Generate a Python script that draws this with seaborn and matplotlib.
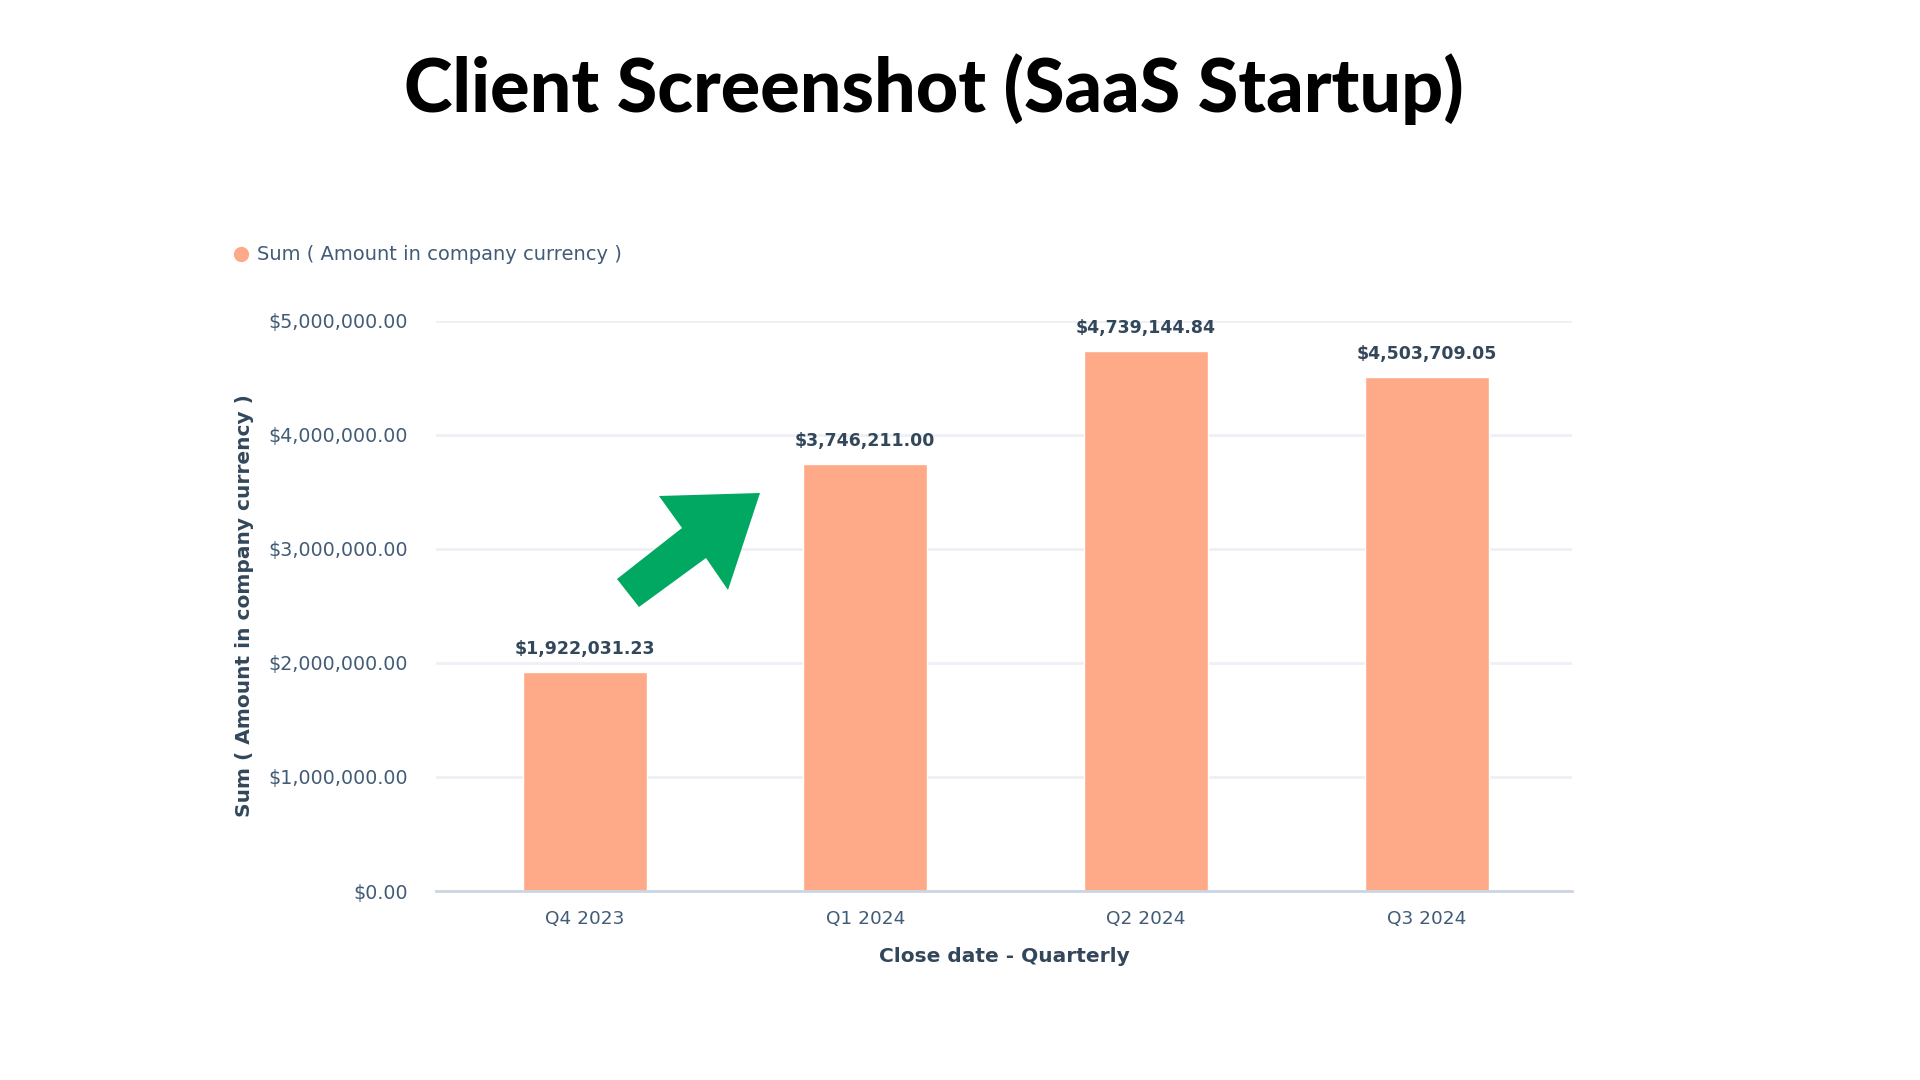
import matplotlib
matplotlib.use("Agg")
import matplotlib.pyplot as plt
from matplotlib.lines import Line2D
from matplotlib.patches import Polygon
from matplotlib.ticker import FuncFormatter
import seaborn as sns
import pandas as pd

quarters = ["Q4 2023", "Q1 2024", "Q2 2024", "Q3 2024"]
amounts = [1922031.23, 3746211.00, 4739144.84, 4503709.05]
y_ticks = [0, 1000000, 2000000, 3000000, 4000000, 5000000]

BAR = "#FEAA88"
NAVY = "#33475b"
GRAY = "#425b76"
GREEN = "#00A862"


def main():
    sns.set_theme(style="white")
    plt.rcParams["font.family"] = ["DejaVu Sans"]

    data = pd.DataFrame({"quarter": quarters, "amount": amounts})

    fig = plt.figure(figsize=(19.2, 10.8), dpi=100)
    ax = fig.add_axes([0.227, 0.175, 0.592, 0.528])

    sns.barplot(data=data, x="quarter", y="amount", color=BAR,
                width=0.442, saturation=1, ax=ax, zorder=3)

    ax.set_xlim(-0.53, 3.52)
    ax.set_ylim(0, 5000000)
    ax.set_yticks(y_ticks)
    ax.yaxis.set_major_formatter(FuncFormatter(lambda v, _: f"${v:,.2f}"))
    ax.grid(axis="y", color="#eef0f5", linewidth=2, zorder=0)
    for side in ["top", "right", "left"]:
        ax.spines[side].set_visible(False)
    ax.spines["bottom"].set_color("#cbd6e2")
    ax.spines["bottom"].set_linewidth(2)
    ax.spines["bottom"].set_zorder(4)

    ax.tick_params(axis="y", length=0, pad=20, labelsize=13.7, labelcolor=GRAY)
    ax.tick_params(axis="x", length=0, pad=14, labelsize=13.3, labelcolor=GRAY)

    ax.set_xlabel("Close date - Quarterly", fontsize=14.5, fontweight="bold",
                  color=NAVY, labelpad=13)
    ax.set_ylabel("Sum ( Amount in company currency )", fontsize=14.5,
                  fontweight="bold", color=NAVY)
    ax.yaxis.set_label_coords(-0.160, 0.5)

    ax.bar_label(ax.containers[0], labels=[f"${v:,.2f}" for v in amounts],
                 padding=10, fontsize=12.5, fontweight="bold", color=NAVY)

    handle = Line2D([], [], marker="o", linestyle="", color=BAR, markersize=10)
    fig.legend(handles=[handle], labels=["Sum ( Amount in company currency )"],
               loc="center left", bbox_to_anchor=(212 / 1920, 1 - 255 / 1080),
               frameon=False, handletextpad=0.2, handlelength=1.2,
               fontsize=14, labelcolor=GRAY)

    fig.text(934 / 1920, 1 - 112 / 1080, "Client Screenshot (SaaS Startup)",
             ha="center", va="baseline", fontsize=53, fontweight="black",
             color="black", family=["Lato", "DejaVu Sans"])

    # green arrow pointing up to the jump in Q1
    pts = [(617, 579), (682, 528), (659, 496), (760, 493),
           (728, 590), (706, 558), (639, 607)]
    arrow = Polygon([(x / 1920, 1 - y / 1080) for x, y in pts], closed=True,
                    transform=fig.transFigure, facecolor=GREEN,
                    edgecolor="none", zorder=5)
    fig.patches.append(arrow)

    fig.savefig("out.png", dpi=100, facecolor="white")


if __name__ == "__main__":
    main()
